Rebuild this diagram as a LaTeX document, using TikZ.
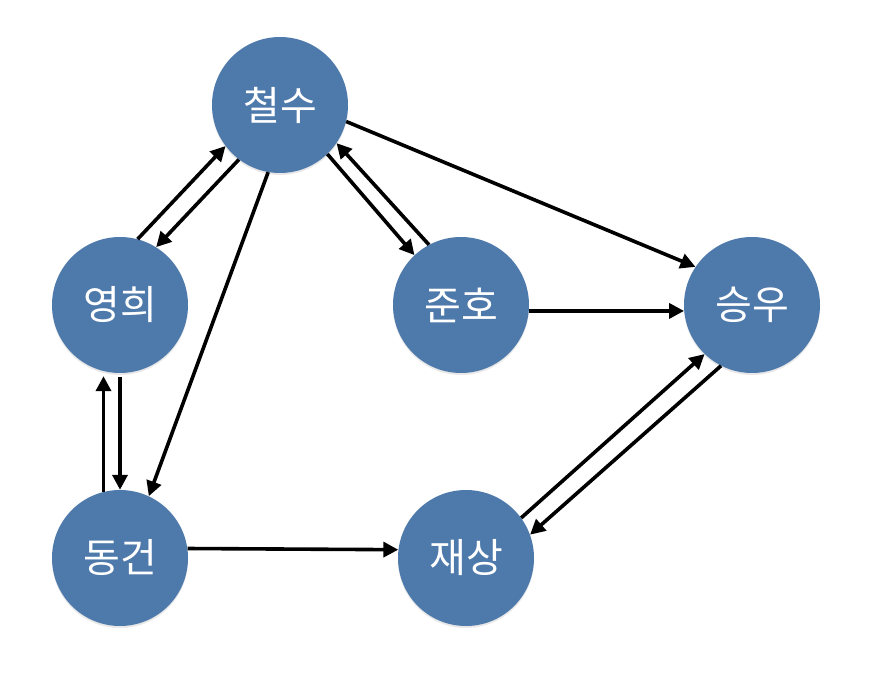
\documentclass[tikz,border=0pt]{standalone}
\usepackage{fontspec}
\setmainfont{Noto Sans CJK KR}
\usetikzlibrary{arrows.meta,shadows}
\definecolor{nodeblue}{RGB}{78,121,171}
\begin{document}
\begin{tikzpicture}[x=1pt,y=-1pt,
  person/.style={circle,fill=nodeblue,minimum size=136pt,inner sep=0pt,
    text=white,font=\fontsize{40}{44}\selectfont,
    drop shadow={shadow xshift=0pt,shadow yshift=-2pt,opacity=0.18}},
  link/.style={line width=3.6pt,-{Triangle[length=15pt,width=15pt]}}]
\useasboundingbox (0,0) rectangle (892,684);
\node[person] (cs) at (280,105) {철수};
\node[person] (yh) at (120,305) {영희};
\node[person] (jh) at (461,305) {준호};
\node[person] (sw) at (752,305) {승우};
\node[person] (dg) at (120,558) {동건};
\node[person] (js) at (466,558) {재상};
\draw[link] (yh.75) -- (cs.217);
\draw[link] (cs.233) -- (yh.58);
\draw[link] (cs.314) -- (jh.133);
\draw[link] (jh.118) -- (cs.326);
\draw[link] (cs.-14) -- (sw.146);
\draw[link] (jh.-5) -- (sw.185);
\draw[link] (cs.260) -- (dg.65);
\draw[link,shorten <=4pt] (yh.270) -- (dg.90);
\draw[link,shorten >=5pt] (dg.104) -- (yh.256);
\draw[link] (dg.8) -- (js.173);
\draw[link] (sw.243) -- (js.20);
\draw[link] (js.36) -- (sw.226);
\end{tikzpicture}
\end{document}
